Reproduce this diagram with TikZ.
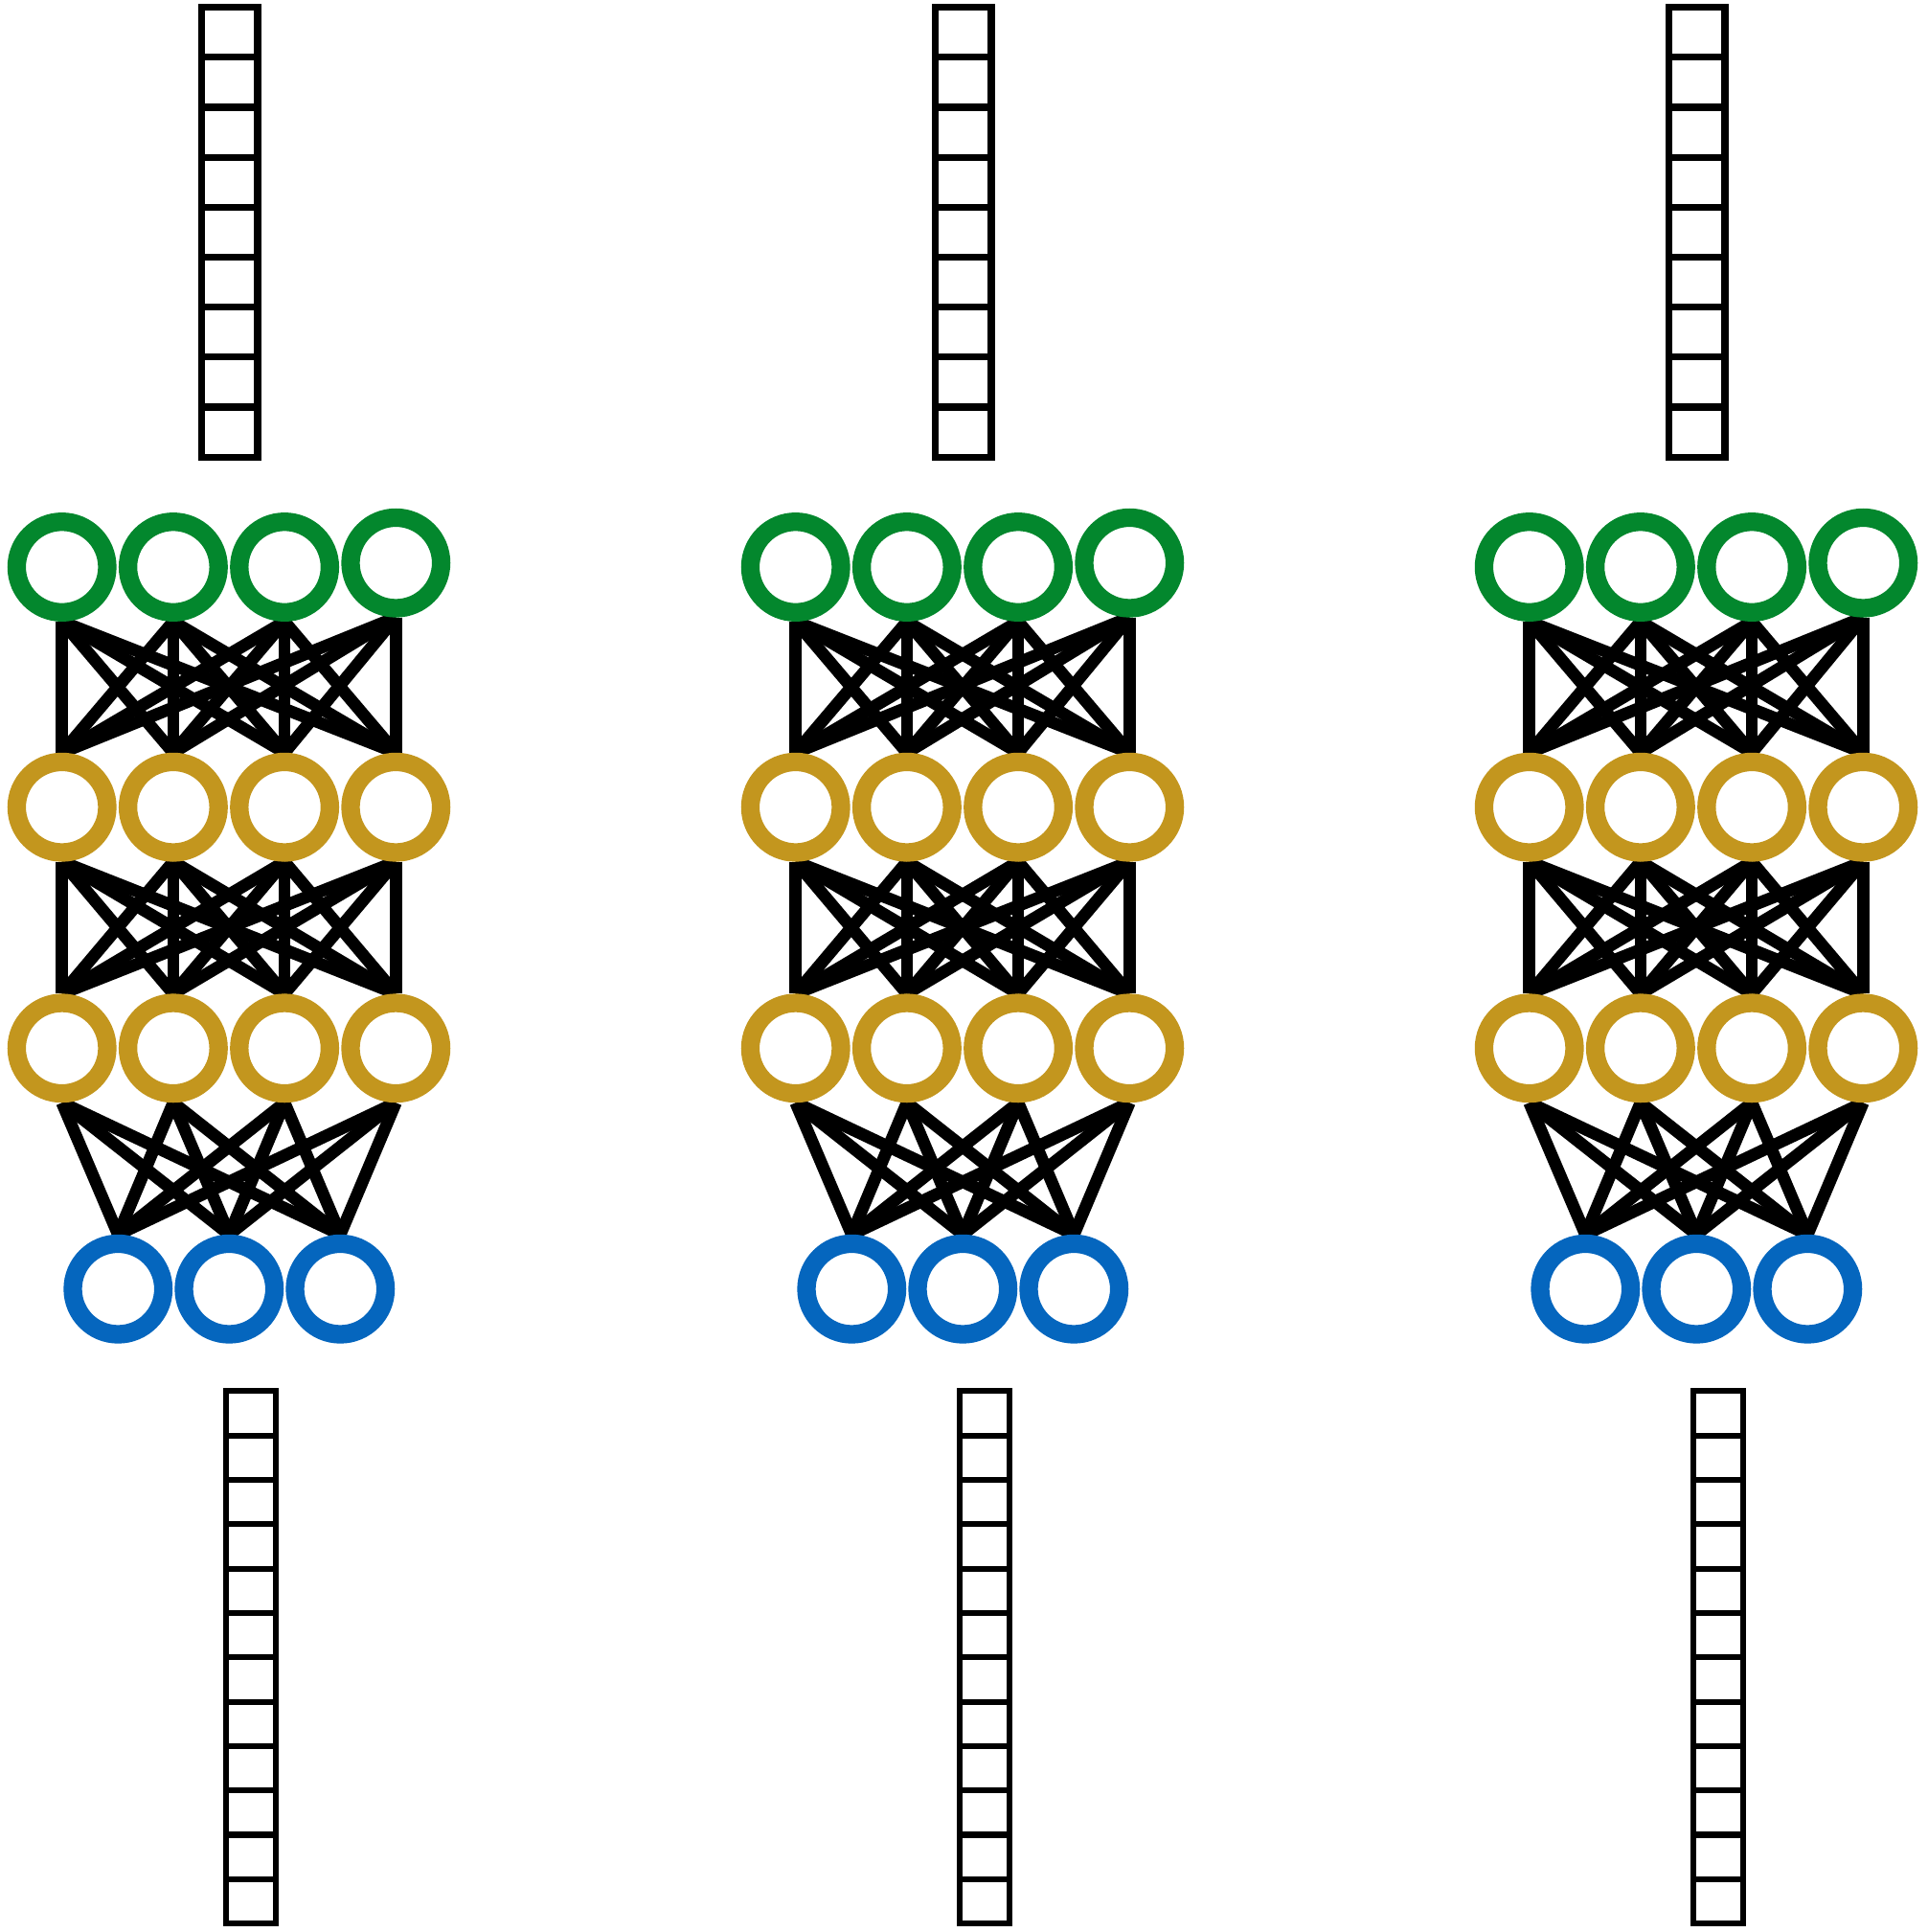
\documentclass[tikz,border=0pt]{standalone}
\usetikzlibrary{backgrounds}
\definecolor{nngreen}{HTML}{03872D}
\definecolor{nngold}{HTML}{C3961E}
\definecolor{nnblue}{HTML}{0566BE}
\begin{document}
\begin{tikzpicture}[
        neuron/.style={circle, draw, fill=white, line width=0.193cm, minimum size=0.946cm, inner sep=0pt},
        link/.style={black, line width=0.127cm},
        topcell/.style={draw=black, line width=0.072cm},
        botcell/.style={draw=black, line width=0.06cm}
    ]
    \useasboundingbox (0,0) rectangle (20.13,-20.17);
    \foreach \n/\dx in {1/0, 2/7.66, 3/15.32} {
        % vector above and vector below
        \foreach \i in {0,...,8}
            \draw[topcell] (2.103+\dx, -0.077-0.5217*\i) rectangle (2.690+\dx, -0.5987-0.5217*\i);
        \foreach \i in {0,...,11}
            \draw[botcell] (2.355+\dx, -14.522-0.4633*\i) rectangle (2.875+\dx, -14.985-0.4633*\i);
        % layers
        \foreach \i/\x in {1/0.647, 2/1.809, 3/2.971}
            \node[neuron, draw=nngreen] (in\n-\i) at (\x+\dx, -5.92) {};
        \node[neuron, draw=nngreen] (in\n-4) at (4.133+\dx, -5.877) {};
        \foreach \i/\x in {1/0.647, 2/1.809, 3/2.971, 4/4.133} {
            \node[neuron, draw=nngold] (ha\n-\i) at (\x+\dx, -8.427) {};
            \node[neuron, draw=nngold] (hb\n-\i) at (\x+\dx, -10.943) {};
        }
        \foreach \i/\x in {1/1.233, 2/2.393, 3/3.553}
            \node[neuron, draw=nnblue] (out\n-\i) at (\x+\dx, -13.457) {};
        % connections
        \begin{pgfonlayer}{background}
            \foreach \i in {1,...,4} \foreach \j in {1,...,4} {
                \draw[link] (in\n-\i.south) -- (ha\n-\j.north);
                \draw[link] (ha\n-\i.south) -- (hb\n-\j.north);
            }
            \foreach \i in {1,...,4} \foreach \j in {1,...,3}
                \draw[link] (hb\n-\i.south) -- (out\n-\j.north);
        \end{pgfonlayer}
    }
\end{tikzpicture}
\end{document}
